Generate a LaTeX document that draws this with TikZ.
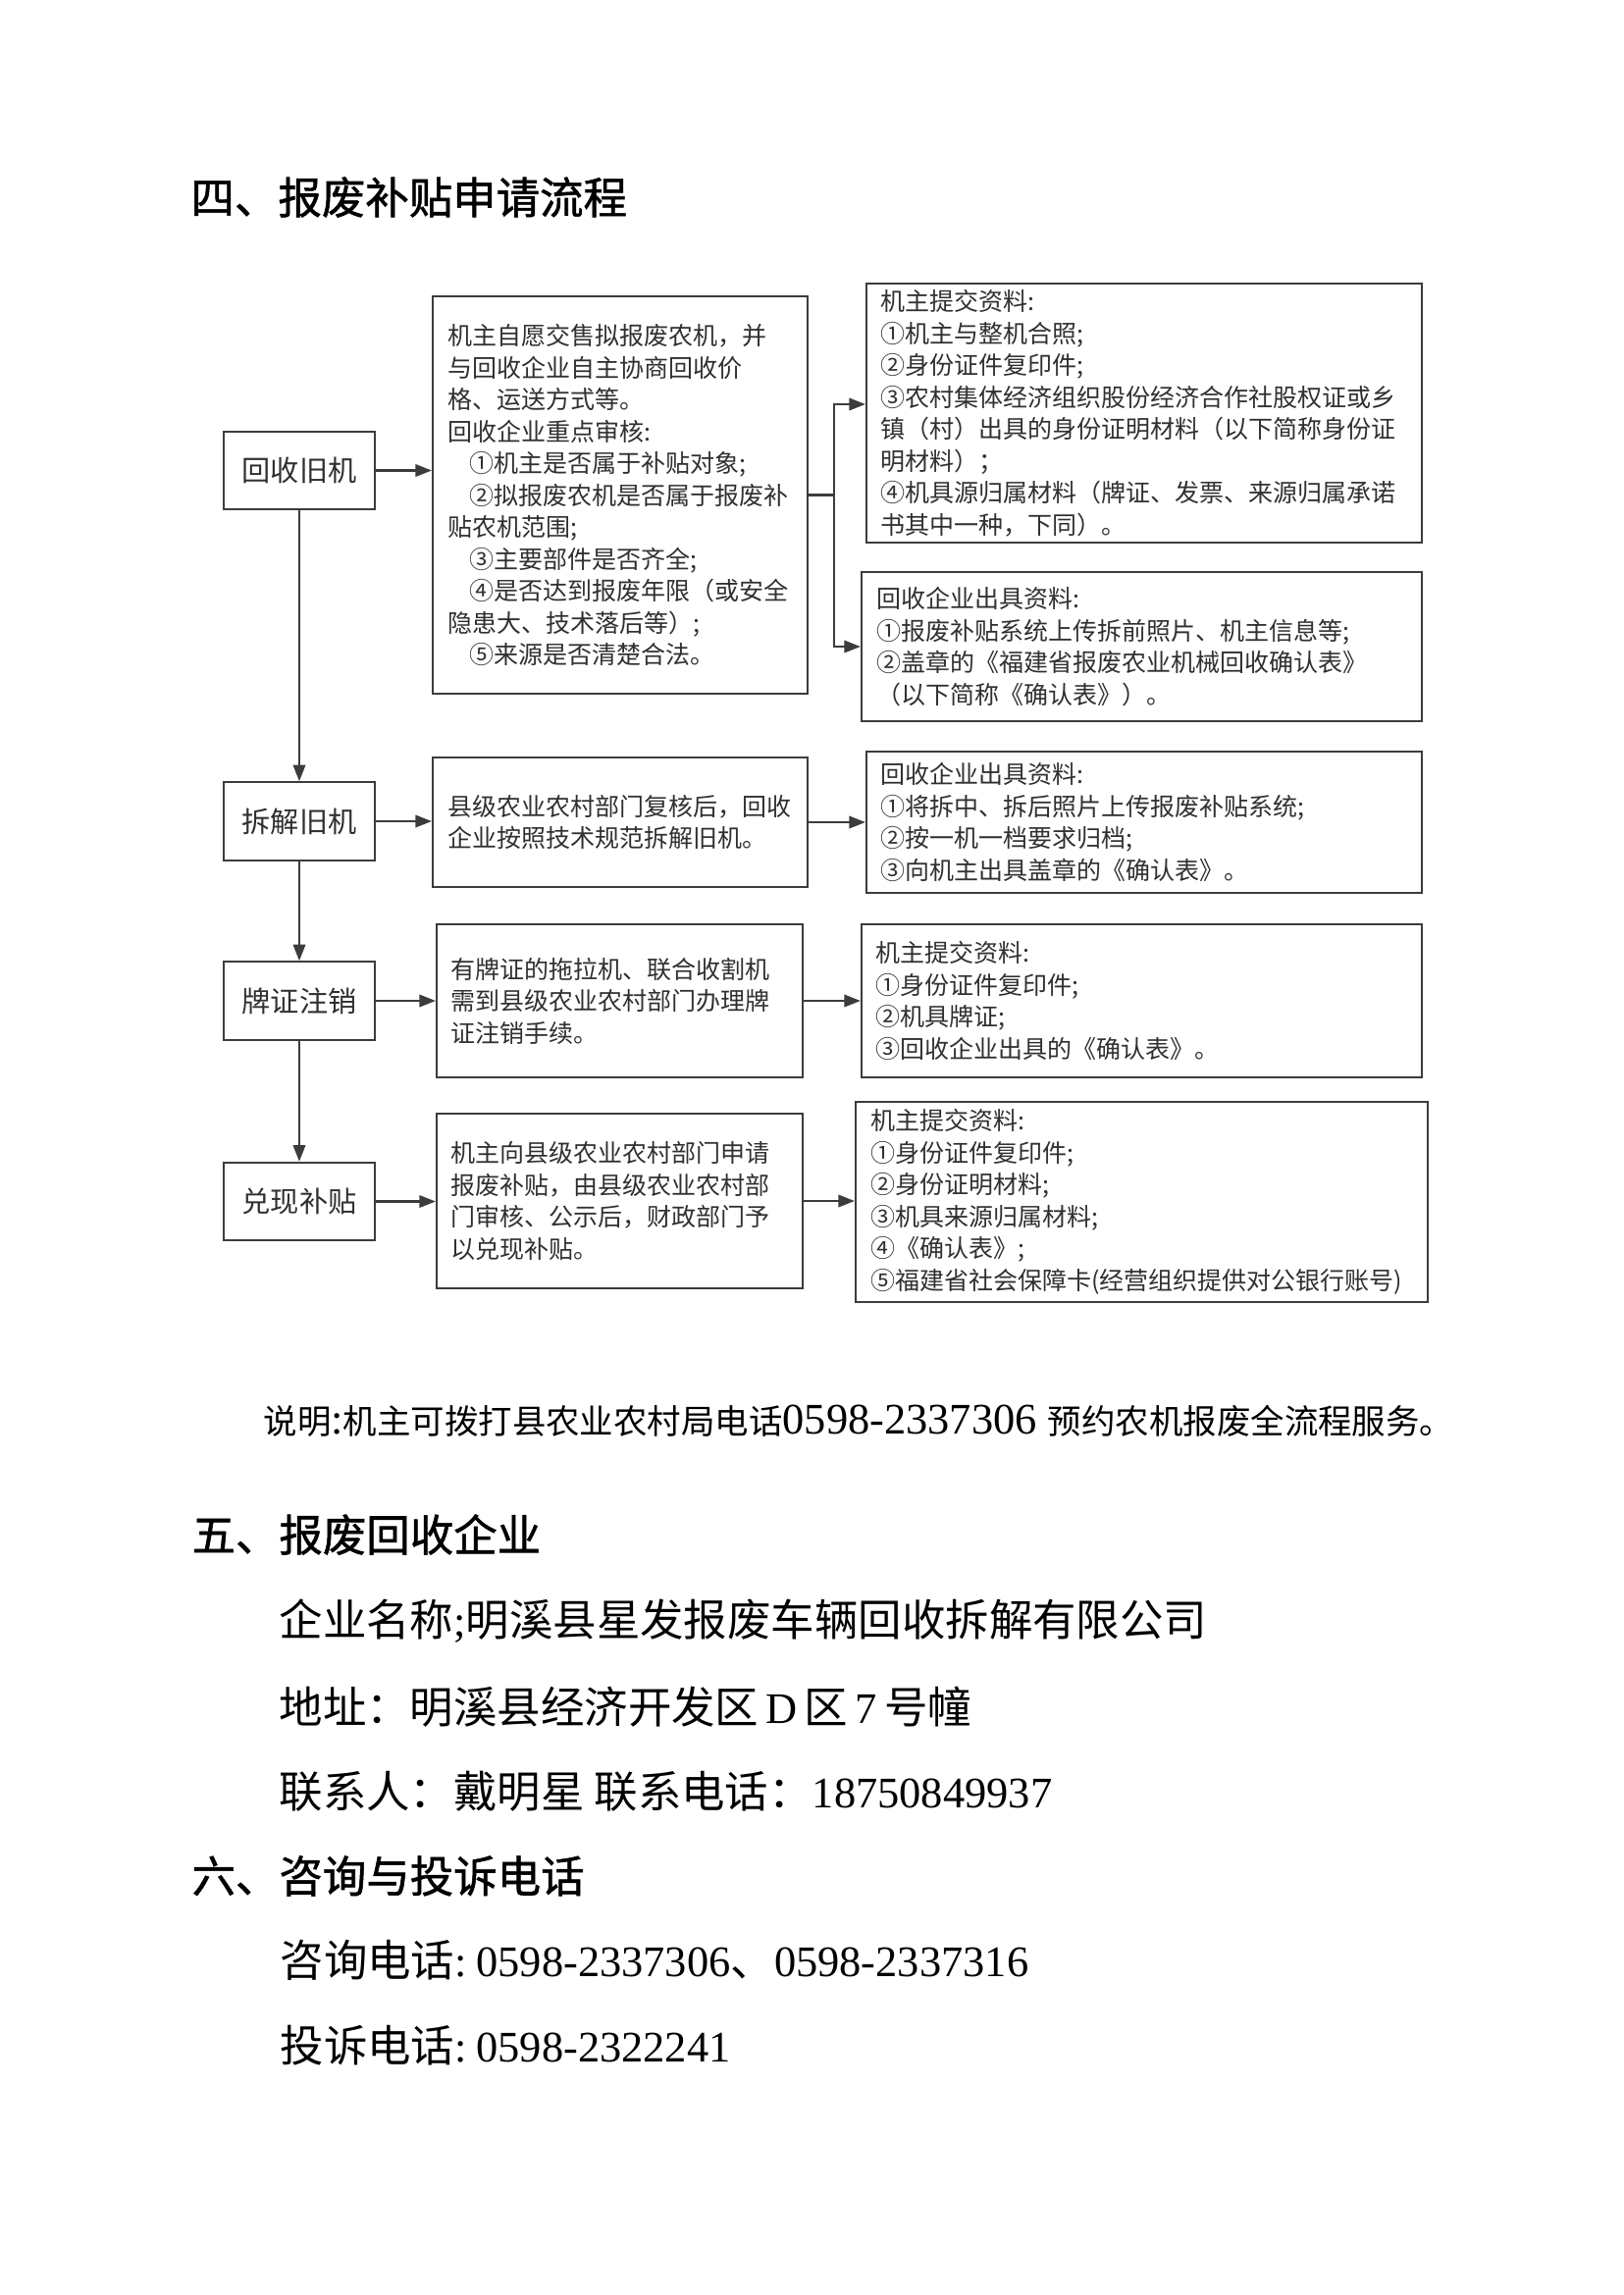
\documentclass[tikz,border=0pt]{standalone}
\usepackage{fontspec}
\setmainfont{Liberation Serif}
\newfontfamily\cjk{Noto Sans CJK SC}
\newfontfamily\cjkhead{Noto Sans CJK SC}[FakeBold=1.2]
\usetikzlibrary{arrows.meta,calc}
\definecolor{linec}{HTML}{3C3C3C}
\definecolor{textc}{HTML}{303030}
\begin{document}
\begin{tikzpicture}[x=0.36pt,y=-0.36pt,
  flowbox/.style={draw=linec, line width=0.75pt, inner xsep=0pt, inner ysep=0pt, align=left, text=textc, font=\cjk\fontsize{9}{11.7}\selectfont},
  lbox/.style={draw=linec, line width=0.75pt, inner sep=0pt, minimum width=55.44pt, minimum height=28.6pt, text=textc, font=\cjk\fontsize{10.5}{12}\selectfont},
  conn/.style={draw=linec, line width=0.75pt},
  arr/.style={conn, -{Triangle[length=6pt,width=4.5pt]}},
  headtxt/.style={anchor=west, inner sep=0pt, font=\cjkhead\fontsize{16}{19}\selectfont},
  bodytxt/.style={anchor=west, inner sep=0pt, font=\cjk\fontsize{16}{19}\selectfont}]
\fill[white] (0,0) rectangle (1654,2339);
\useasboundingbox (0,0) rectangle (1654,2339);

% heading
\node[headtxt] (h4) at (194,201) {四、报废补贴申请流程};

% left column
\node[lbox] (L1) at (305,479.5) {回收旧机};
\node[lbox] (L2) at (305,837) {拆解旧机};
\node[lbox] (L3) at (305,1020) {牌证注销};
\node[lbox] (L4) at (305,1224.5) {兑现补贴};

% middle column
\node[flowbox, minimum width=137.52pt, minimum height=145.8pt, text width=126.72pt] (M1) at (632,504.5) {机主自愿交售拟报废农机，并\\
与回收企业自主协商回收价\\
格、运送方式等。\\
回收企业重点审核:\\
\hspace*{8pt}①机主是否属于补贴对象;\\
\hspace*{8pt}②拟报废农机是否属于报废补\\
贴农机范围;\\
\hspace*{8pt}③主要部件是否齐全;\\
\hspace*{8pt}④是否达到报废年限（或安全\\
隐患大、技术落后等）;\\
\hspace*{8pt}⑤来源是否清楚合法。};
\node[flowbox, minimum width=137.52pt, minimum height=47.52pt, text width=126.72pt] (M2) at (632,838) {县级农业农村部门复核后，回收\\
企业按照技术规范拆解旧机。};
\node[flowbox, minimum width=134.28pt, minimum height=56.16pt, text width=124.2pt] (M3) at (631.5,1020) {有牌证的拖拉机、联合收割机\\
需到县级农业农村部门办理牌\\
证注销手续。};
\node[flowbox, minimum width=134.28pt, minimum height=64.08pt, text width=124.2pt] (M4) at (631.5,1224) {机主向县级农业农村部门申请\\
报废补贴，由县级农业农村部\\
门审核、公示后，财政部门予\\
以兑现补贴。};

% right column
\node[flowbox, minimum width=203.76pt, minimum height=95.04pt, text width=193.68pt] (R1) at (1166,421) {机主提交资料:\\
①机主与整机合照;\\
②身份证件复印件;\\
③农村集体经济组织股份经济合作社股权证或乡\\
镇（村）出具的身份证明材料（以下简称身份证\\
明材料）；\\
④机具源归属材料（牌证、发票、来源归属承诺\\
书其中一种，下同）。};
\node[flowbox, minimum width=205.56pt, minimum height=54.72pt, text width=194.76pt] (R2) at (1163.5,659) {回收企业出具资料:\\
①报废补贴系统上传拆前照片、机主信息等;\\
②盖章的《福建省报废农业机械回收确认表》\\
（以下简称《确认表》）。};
\node[flowbox, minimum width=203.76pt, minimum height=51.84pt, text width=193.68pt] (R3) at (1166,838) {回收企业出具资料:\\
①将拆中、拆后照片上传报废补贴系统;\\
②按一机一档要求归档;\\
③向机主出具盖章的《确认表》。};
\node[flowbox, minimum width=205.56pt, minimum height=56.16pt, text width=195.48pt] (R4) at (1163.5,1020) {机主提交资料:\\
①身份证件复印件;\\
②机具牌证;\\
③回收企业出具的《确认表》。};
\node[flowbox, minimum width=209.88pt, minimum height=73.44pt, text width=199.08pt] (R5) at (1163.5,1225) {机主提交资料:\\
①身份证件复印件;\\
②身份证明材料;\\
③机具来源归属材料;\\
④《确认表》;\\
⑤福建省社会保障卡(经营组织提供对公银行账号)};

% connectors: left column
\draw[arr] (L1.south) -- (L2.north);
\draw[arr] (L2.south) -- (L3.north);
\draw[arr] (L3.south) -- (L4.north);
\draw[arr] (L1.east) -- (L1.east -| M1.west);
\draw[arr] (L2.east) -- (L2.east -| M2.west);
\draw[arr] (L3.east) -- (L3.east -| M3.west);
\draw[arr] (L4.east) -- (L4.east -| M4.west);

% connectors: middle to right
\coordinate (j1) at (850,504.5);
\draw[conn] (M1.east) -- (j1);
\draw[arr] (j1) |- ($(R1.west)+(0,-9)$);
\draw[arr] (j1) |- (R2.west);
\draw[arr] (M2.east) -- (M2.east -| R3.west);
\draw[arr] (M3.east) -- (M3.east -| R4.west);
\draw[arr] (M4.east) -- (M4.east -| R5.west);

% note
\node[anchor=west, inner sep=0pt] (note) at (268,1448) {{\cjk\fontsize{12.4}{14}\selectfont 说明}{\rmfamily\fontsize{16}{19}\selectfont :}{\cjk\fontsize{12.4}{14}\selectfont 机主可拨打县农业农村局电话}{\rmfamily\fontsize{16}{19}\selectfont 0598-2337306 }{\cjk\fontsize{12.4}{14}\selectfont 预约农机报废全流程服务。}};

% section 5
\node[headtxt] (h5) at (195,1564) {五、报废回收企业};
\node[bodytxt] (b1) at (284,1652) {企业名称\rmfamily;\cjk 明溪县星发报废车辆回收拆解有限公司};
\node[bodytxt] (b2) at (284,1740) {地址：明溪县经济开发区\rmfamily\hspace{2.6pt}D\hspace{2.6pt}\cjk 区\rmfamily\hspace{2.6pt}7\hspace{2.6pt}\cjk 号幢};
\node[bodytxt] (b3) at (284,1826) {联系人：戴明星 联系电话：\rmfamily 18750849937};

% section 6
\node[headtxt] (h6) at (195,1912) {六、咨询与投诉电话};
\node[bodytxt] (b4) at (285,1998) {咨询电话\rmfamily :\hspace{3.5pt}0598-2337306\cjk 、\rmfamily 0598-2337316};
\node[bodytxt] (b5) at (285,2085) {投诉电话\rmfamily :\hspace{3.5pt}0598-2322241};
\end{tikzpicture}
\end{document}
